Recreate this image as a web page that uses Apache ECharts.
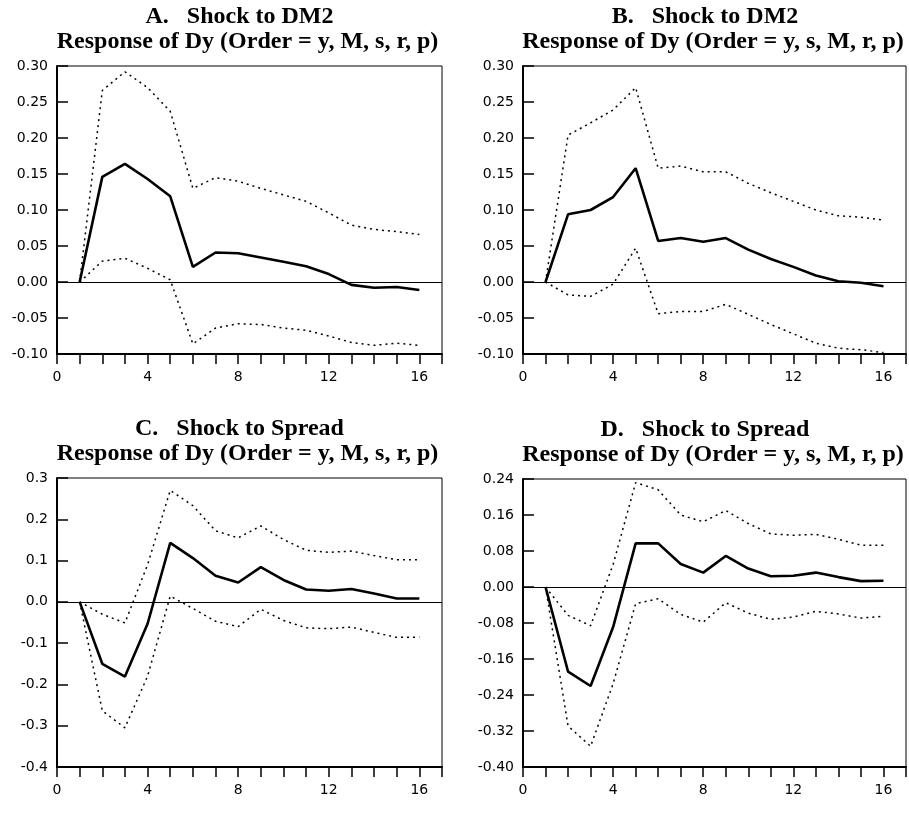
<!DOCTYPE html>
<html>
<head>
<meta charset="utf-8">
<script src="https://cdn.jsdelivr.net/npm/echarts@6/dist/echarts.min.js"></script>
<style>html,body{margin:0;padding:0;background:#fff}#c{width:909px;height:833px}</style>
</head>
<body>
<div id="c"></div>
<script>
// Horizon (quarters)
var steps = [1,2,3,4,5,6,7,8,9,10,11,12,13,14,15,16];

// Panel titles
var titleLine1 = ['A.   Shock to DM2', 'B.   Shock to DM2', 'C.   Shock to Spread', 'D.   Shock to Spread'];
var titleLine2 = ['Response of Dy (Order = y, M, s, r, p)', 'Response of Dy (Order = y, s, M, r, p)',
                  'Response of Dy (Order = y, M, s, r, p)', 'Response of Dy (Order = y, s, M, r, p)'];

// Panel A
var aMid = [0, 0.146, 0.164, 0.143, 0.119, 0.021, 0.041, 0.040, 0.034, 0.028, 0.022, 0.011, -0.004, -0.008, -0.007, -0.011];
var aUp  = [0, 0.266, 0.292, 0.270, 0.237, 0.130, 0.145, 0.140, 0.130, 0.121, 0.112, 0.096, 0.079, 0.073, 0.070, 0.066];
var aLo  = [0, 0.029, 0.033, 0.019, 0.003, -0.086, -0.064, -0.058, -0.059, -0.064, -0.067, -0.075, -0.084, -0.088, -0.085, -0.088];

// Panel B
var bMid = [0, 0.094, 0.100, 0.118, 0.158, 0.057, 0.061, 0.056, 0.061, 0.045, 0.032, 0.021, 0.009, 0.001, -0.001, -0.006];
var bUp  = [0, 0.204, 0.221, 0.239, 0.270, 0.158, 0.161, 0.153, 0.153, 0.137, 0.124, 0.112, 0.100, 0.092, 0.090, 0.086];
var bLo  = [0, -0.018, -0.020, -0.003, 0.047, -0.044, -0.041, -0.041, -0.031, -0.045, -0.059, -0.072, -0.085, -0.092, -0.094, -0.098];

// Panel C
var cMid = [0, -0.150, -0.181, -0.053, 0.143, 0.106, 0.063, 0.047, 0.084, 0.053, 0.030, 0.027, 0.031, 0.020, 0.008, 0.008];
var cUp  = [0, -0.030, -0.051, 0.090, 0.270, 0.233, 0.172, 0.155, 0.184, 0.151, 0.125, 0.120, 0.123, 0.112, 0.102, 0.102];
var cLo  = [0, -0.264, -0.305, -0.180, 0.014, -0.016, -0.047, -0.060, -0.018, -0.045, -0.063, -0.065, -0.061, -0.074, -0.086, -0.086];

// Panel D
var dMid = [0, -0.188, -0.220, -0.089, 0.097, 0.097, 0.051, 0.032, 0.069, 0.041, 0.024, 0.025, 0.032, 0.022, 0.013, 0.014];
var dUp  = [0, -0.063, -0.086, 0.050, 0.232, 0.216, 0.160, 0.145, 0.170, 0.141, 0.118, 0.115, 0.117, 0.106, 0.093, 0.093];
var dLo  = [0, -0.309, -0.354, -0.215, -0.037, -0.026, -0.061, -0.078, -0.035, -0.058, -0.072, -0.067, -0.054, -0.060, -0.069, -0.065];

// Y axis settings per panel
var yMin = [-0.10, -0.10, -0.4, -0.40];
var yMax = [0.30, 0.30, 0.3, 0.24];
var yStep = [0.05, 0.05, 0.1, 0.08];
var yDecimals = [2, 2, 1, 2];

var panels = [[aMid, aUp, aLo], [bMid, bUp, bLo], [cMid, cUp, cLo], [dMid, dUp, dLo]];

var grids = [
  {left: 57, top: 66, width: 385, height: 288},
  {left: 523, top: 66, width: 384, height: 288},
  {left: 57, top: 478, width: 385, height: 289},
  {left: 523, top: 479, width: 384, height: 288}
];

function pairs(arr) { return steps.map(function (s, i) { return [s, arr[i]]; }); }

var option = {
  animation: false,
  backgroundColor: '#fff',
  title: [],
  grid: [],
  xAxis: [],
  yAxis: [],
  series: []
};

var tick = '#000';
for (var p = 0; p < 4; p++) {
  var g = grids[p];
  var cx = g.left + g.width / 2;
  option.title.push({
    text: titleLine1[p], left: cx - 10, top: g.top - 61, textAlign: 'center', padding: 0,
    textStyle: {fontFamily: 'Liberation Serif', fontWeight: 'bold', fontSize: 24, color: '#000'}
  });
  option.title.push({
    text: titleLine2[p], left: cx - 2, top: g.top - 36, textAlign: 'center', padding: 0,
    textStyle: {fontFamily: 'Liberation Serif', fontWeight: 'bold', fontSize: 24, color: '#000'}
  });
  option.grid.push({left: g.left, top: g.top, width: g.width, height: g.height,
    show: true, borderColor: '#000', borderWidth: 1, backgroundColor: 'transparent'});
  option.xAxis.push({
    type: 'value', gridIndex: p, min: 0, max: 17, interval: 1,
    axisLine: {show: true, onZero: false, lineStyle: {color: '#000', width: 2}},
    axisTick: {show: true, inside: false, length: 10, lineStyle: {color: tick, width: 1.5}},
    axisLabel: {
      margin: 16, color: '#000', fontFamily: 'DejaVu Sans', fontSize: 14,
      formatter: function (v) { return (v % 4 === 0 && v <= 16) ? String(v) : ''; }
    },
    splitLine: {show: false}
  });
  (function (d) {
    option.yAxis.push({
      type: 'value', gridIndex: p, min: yMin[p], max: yMax[p], interval: yStep[p],
      axisLine: {show: true, onZero: false, lineStyle: {color: '#000', width: 2}},
      axisTick: {show: true, inside: true, length: 11, lineStyle: {color: tick, width: 1.5}},
      axisLabel: {
        margin: 9, color: '#000', fontFamily: 'DejaVu Sans', fontSize: 14,
        formatter: function (v) { return v.toFixed(d); }
      },
      splitLine: {show: false}
    });
  })(yDecimals[p]);
  var set = panels[p];
  option.series.push({
    type: 'line', xAxisIndex: p, yAxisIndex: p, data: pairs(set[0]), showSymbol: false,
    lineStyle: {color: '#000', width: 2.6}, z: 5,
    markLine: {silent: true, symbol: ['none', 'none'], label: {show: false},
      lineStyle: {color: '#000', width: 1, type: 'solid'}, data: [{yAxis: 0}]}
  });
  option.series.push({
    type: 'line', xAxisIndex: p, yAxisIndex: p, data: pairs(set[1]), showSymbol: false,
    lineStyle: {color: '#000', width: 1.5, type: [2, 4]}
  });
  option.series.push({
    type: 'line', xAxisIndex: p, yAxisIndex: p, data: pairs(set[2]), showSymbol: false,
    lineStyle: {color: '#000', width: 1.5, type: [2, 4]}
  });
}

var chart = echarts.init(document.getElementById('c'), null, {renderer: 'canvas'});
chart.setOption(option);
</script>
</body>
</html>
